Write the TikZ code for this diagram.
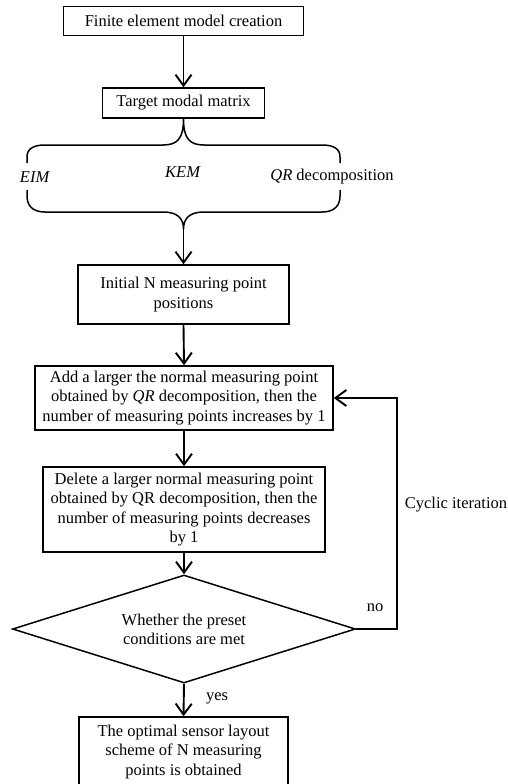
\documentclass[tikz,border=0pt]{standalone}
\usepackage{fontspec}
\setmainfont{Liberation Serif}
\usetikzlibrary{arrows.meta,shapes.geometric}
\begin{document}
\begin{tikzpicture}[x=1pt,y=-1pt,
  txt/.style={font=\fontsize{16.5}{19.2}\selectfont},
  box/.style={draw,line width=1.5pt,align=center,inner sep=0pt,txt},
  lab/.style={inner sep=0pt,txt},
  arr/.style={line width=1.9pt,-{Straight Barb[length=11pt,width=16pt,line width=1.9pt]}},
  ln/.style={line width=1.5pt}]
\useasboundingbox (0,0) rectangle (508,784);
\clip (0,0) rectangle (508,784);

\node[box, minimum width=240pt, minimum height=29pt] (b1) at (183.5,21) {Finite element model creation};
\node[box, minimum width=162pt, minimum height=30pt] (b2) at (183.5,103) {Target modal matrix};

\coordinate (ct) at (183.5,119);
\coordinate (cb) at (183.5,229);
\draw[ln] (27,163) -- (27,157) .. controls (27,149) and (33,145) .. (45,145) -- (163,145)
  .. controls (177,145) and (183.5,139) .. (ct)
  .. controls (183.5,139) and (190,145) .. (204,145) -- (322,145)
  .. controls (334,145) and (340,149) .. (340,157) -- (340,163);
\draw[ln] (27,190) -- (27,196) .. controls (27,206) and (33,212) .. (45,212) -- (163,212)
  .. controls (177,212) and (183.5,218) .. (cb)
  .. controls (183.5,218) and (190,212) .. (204,212) -- (322,212)
  .. controls (334,212) and (340,206) .. (340,196) -- (340,190);

\node[lab] (eim) at (35,177) {\textit{EIM}};
\node[lab] (kem) at (183,172) {\textit{KEM}};
\node[lab] (qr) at (332,177) {\textit{QR} decomposition};

\node[box, minimum width=211pt, minimum height=59pt] (b3) at (183.5,294.5) {Initial N measuring point\\positions};
\node[box, minimum width=298pt, minimum height=64pt] (b4) at (184,398) {Add a larger the normal measuring point\\obtained by \textit{QR} decomposition, then the\\number of measuring points increases by 1};
\node[box, minimum width=282pt, minimum height=85pt] (b5) at (184,509.5) {Delete a larger normal measuring point\\obtained by QR decomposition, then the\\number of measuring points decreases\\by 1};
\node[draw, diamond, line width=1.5pt, minimum width=343pt, minimum height=108pt, aspect=3.2, inner sep=0pt, align=center, txt] (d) at (184,629) {Whether the preset\\conditions are met};
\node[box, minimum width=209pt, minimum height=70pt] (b6) at (183.5,752) {The optimal sensor layout\\scheme of N measuring\\points is obtained};

\draw[arr] (b1.south) -- (b2.north);
\draw[ln] (b2.south) -- (ct);
\draw[arr] (cb) -- (b3.north);
\draw[arr] (b3.south) -- (b4.north);
\draw[arr] (b4.south) -- (b5.north);
\draw[arr] (b5.south) -- (d.north);
\draw[arr] (d.south) -- (b6.north);

\coordinate (loopb) at (397,629);
\coordinate (loopt) at (397,398);
\draw[arr] (d.east) -- (loopb) -- (loopt) -- (b4.east);

\node[lab] (no) at (375,608) {no};
\node[lab] (yes) at (217,698) {yes};
\node[lab] (cyc) at (456,505) {Cyclic iteration};
\end{tikzpicture}
\end{document}
